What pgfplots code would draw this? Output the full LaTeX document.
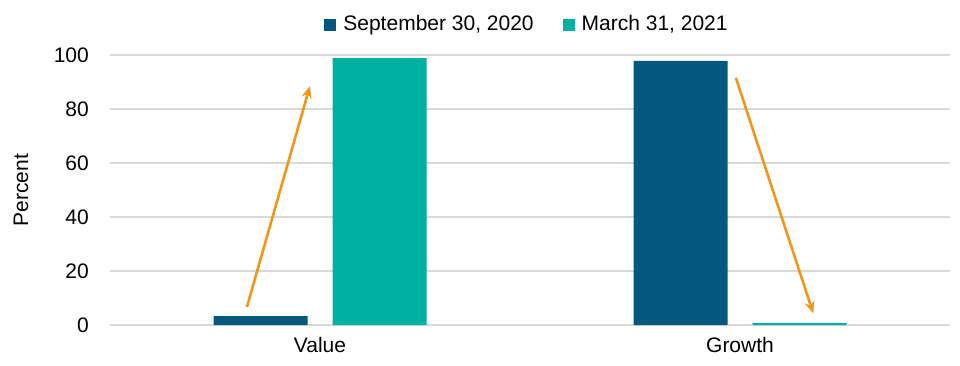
\documentclass[border=0pt]{standalone}
\usepackage{fontspec}
\setmainfont{Liberation Sans}
\usepackage{pgfplots}
\pgfplotsset{compat=1.18}
\usetikzlibrary{arrows.meta}
\definecolor{dblue}{HTML}{03587F}
\definecolor{teal2}{HTML}{00B0A0}
\definecolor{arrowc}{HTML}{F0961B}
\definecolor{gridgray}{HTML}{D9D9D9}
\begin{document}
\fontsize{21}{25}\selectfont
\begin{tikzpicture}
\path[use as bounding box] (-110pt,-40pt) rectangle (850pt,325pt);
\begin{axis}[
  at={(0,0)}, anchor=south west,
  scale only axis, width=840pt, height=270pt,
  xmin=-0.5, xmax=1.5, ymin=0, ymax=100,
  xtick={0,1}, xticklabels={Value,Growth},
  ytick={0,20,40,60,80,100},
  axis line style={draw=none},
  major tick length=0pt,
  xmajorgrids=false, ymajorgrids=true,
  y grid style={gridgray, line width=1.5pt},
  /pgf/number format/assume math mode=true,
  yticklabel style={anchor=east, xshift=-14pt},
  xticklabel style={anchor=north, yshift=-5pt},
  ylabel={Percent},
  every axis y label/.style={at={(axis description cs:-0.106,0.5)}, rotate=90, anchor=center},
  legend style={at={(0.5,1)}, anchor=south, yshift=19pt, xshift=-3pt, draw=none, fill=none,
    legend columns=2,
    /tikz/every odd column/.append style={column sep=5pt},
    /tikz/every even column/.append style={column sep=27pt},
    inner sep=0pt},
  legend image code/.code={\fill[#1] (0pt,-6pt) rectangle (12pt,6pt);},
  clip=false,
]
\addplot[ybar, bar width=94pt, bar shift=-59.5pt, fill=dblue, draw=none] coordinates {(0,3.3) (1,97.8)};
\addlegendentry{September 30, 2020}
\addplot[ybar, bar width=94pt, bar shift=59.5pt, fill=teal2, draw=none] coordinates {(0,98.8) (1,0.7)};
\addlegendentry{March 31, 2021}
\addplot[arrowc, line width=2.6pt, -{Stealth[length=12pt,width=10pt]}, forget plot] coordinates {(-0.174,6.7) (-0.024,88.5)};
\addplot[arrowc, line width=2.6pt, -{Stealth[length=12pt,width=10pt]}, forget plot] coordinates {(0.99,91.6) (1.1745,4.3)};
\end{axis}
\end{tikzpicture}
\end{document}
